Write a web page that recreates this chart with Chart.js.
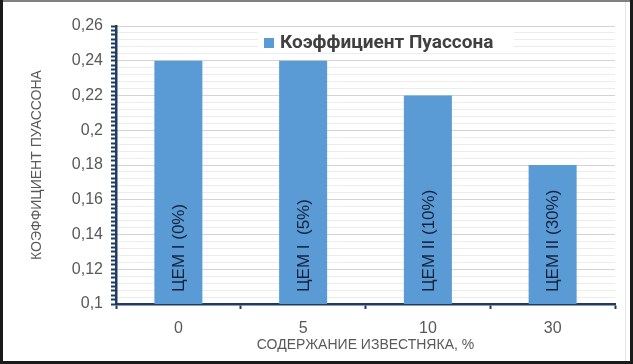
<!DOCTYPE html>
<html>
<head>
<meta charset="utf-8">
<script src="https://cdn.jsdelivr.net/npm/chart.js@4"></script>
<style>
  body { margin: 0; background: #fff; }
  #wrap { width: 633px; height: 364px; }
</style>
</head>
<body>
<div id="wrap"><canvas id="myChart" width="633" height="364"></canvas></div>
<script>
const categories = ['0', '5', '10', '30'];
const poissonValues = [0.24, 0.24, 0.22, 0.18];
const barLabels = ['ЦЕМ I (0%)', 'ЦЕМ I  (5%)', 'ЦЕМ II (10%)', 'ЦЕМ II (30%)'];
const seriesName = 'Коэффициент Пуассона';
const yTitle = 'КОЭФФИЦИЕНТ ПУАССОНА';
const xTitle = 'СОДЕРЖАНИЕ ИЗВЕСТНЯКА, %';

const navy = '#1f3b63';
const blue = '#5b9bd5';
const gray = '#595959';

function isMajor(v) {
    const r = v / 0.02;
    return Math.abs(r - Math.round(r)) < 1e-6;
}

// рамка вокруг картинки
const framePlugin = {
    id: 'frame',
    afterDraw(chart) {
        const c = chart.ctx;
        c.save();
        c.fillStyle = '#808080';
        c.fillRect(0, 0, 633, 2);
        c.fillStyle = '#1a1a1a';
        c.fillRect(0, 0, 3, 364);
        c.fillRect(630, 0, 3, 364);
        c.fillRect(0, 361, 633, 3);
        c.fillStyle = '#e4e4e4';
        c.fillRect(625, 2, 1, 359);
        c.restore();
    }
};

// легенда внутри области графика
const legendPlugin = {
    id: 'innerLegend',
    afterDatasetsDraw(chart) {
        const c = chart.ctx;
        c.save();
        c.fillStyle = '#fff';
        c.fillRect(258, 29, 256, 24);
        c.fillStyle = blue;
        c.fillRect(264, 38, 10, 10);
        c.fillStyle = '#404040';
        c.font = 'bold 19px Roboto';
        c.textBaseline = 'middle';
        c.fillText(seriesName, 280, 43);
        c.restore();
    }
};

// подписи внутри столбцов
const barTextPlugin = {
    id: 'barText',
    afterDatasetsDraw(chart) {
        const c = chart.ctx;
        const meta = chart.getDatasetMeta(0);
        const yBase = chart.scales.y.getPixelForValue(0.1);
        c.save();
        c.fillStyle = '#14213a';
        c.font = '17px "Liberation Sans", Arial';
        c.textBaseline = 'middle';
        c.textAlign = 'left';
        meta.data.forEach((bar, i) => {
            c.save();
            c.translate(bar.x, yBase - 12);
            c.rotate(-Math.PI / 2);
            c.fillText(barLabels[i], 0, 1);
            c.restore();
        });
        c.restore();
    }
};

const ctx = document.getElementById('myChart');
const poissonChart = new Chart(ctx, {
    type: 'bar',
    data: {
        labels: categories,
        datasets: [{
            label: seriesName,
            data: poissonValues,
            backgroundColor: blue,
            categoryPercentage: 1,
            barPercentage: 0.385
        }]
    },
    options: {
        responsive: false,
        animation: false,
        layout: { padding: { left: 29, top: 26, right: 18, bottom: 10 } },
        plugins: {
            legend: { display: false },
            tooltip: { enabled: false }
        },
        scales: {
            y: {
                position: 'left',
                weight: 1,
                min: 0.1,
                max: 0.26,
                ticks: {
                    stepSize: 0.004,
                    autoSkip: false,
                    color: gray,
                    font: { family: '"Liberation Sans", Arial', size: 16 },
                    padding: 7,
                    callback: v => isMajor(v) ? String(Math.round(v * 100) / 100).replace('.', ',') : ''
                },
                border: { display: false },
                grid: {
                    drawTicks: false,
                    lineWidth: 1,
                    color: c => isMajor(c.tick.value) ? '#d4d4d4' : '#ececec'
                },
                title: {
                    display: true,
                    text: yTitle,
                    color: gray,
                    font: { family: '"Liberation Sans", Arial', size: 14 },
                    padding: 0
                },
                afterFit: s => { s.width = 81; }
            },
            yt: {
                position: 'left',
                weight: 0,
                min: 0.1,
                max: 0.26,
                ticks: { display: false, stepSize: 0.0025, autoSkip: false },
                border: { color: navy, width: 2.5 },
                grid: { drawOnChartArea: false, tickLength: 5, tickColor: navy, tickWidth: 2 },
                afterFit: s => { s.width = 6; }
            },
            x: {
                offset: true,
                ticks: {
                    color: gray,
                    font: { family: '"Liberation Sans", Arial', size: 16 },
                    padding: 10
                },
                border: { color: navy, width: 2.5 },
                grid: { offset: true, drawOnChartArea: false, tickLength: 5, tickColor: navy, tickWidth: 2 },
                title: {
                    display: true,
                    text: xTitle,
                    color: gray,
                    font: { family: '"Liberation Sans", Arial', size: 14 },
                    padding: { top: 0, bottom: 0 }
                },
                afterFit: s => { s.height = 50; }
            }
        }
    },
    plugins: [legendPlugin, barTextPlugin, framePlugin]
});
</script>
</body>
</html>
